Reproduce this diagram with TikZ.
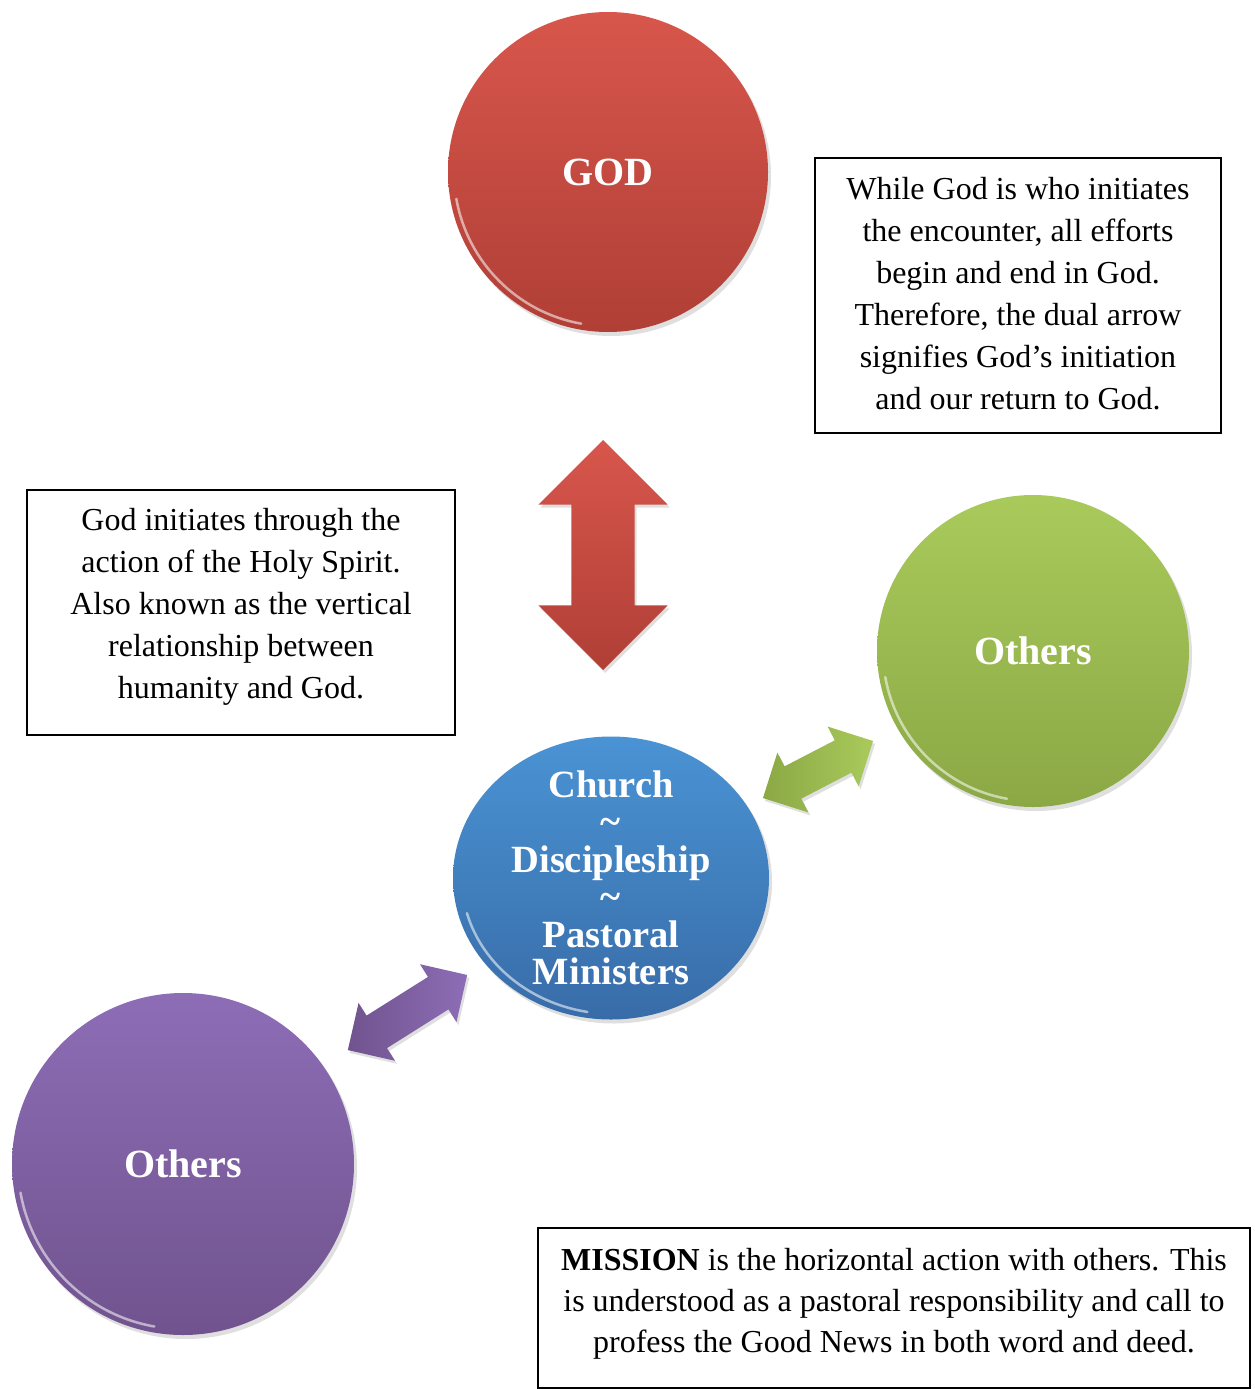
\documentclass[tikz,border=0pt]{standalone}
\usepackage{fontspec}
\setmainfont{Liberation Serif}
\usetikzlibrary{shapes.geometric,shapes.arrows,shadows,calc}
\definecolor{redT}{HTML}{D8564C}
\definecolor{redB}{HTML}{B03F36}
\definecolor{grnT}{HTML}{A9CA5B}
\definecolor{grnB}{HTML}{8BA845}
\definecolor{bluT}{HTML}{4A93D4}
\definecolor{bluB}{HTML}{386CA8}
\definecolor{purT}{HTML}{8D6DB6}
\definecolor{purB}{HTML}{70538E}
\tikzset{
  ball/.style={circle,inner sep=0pt,text=white,font=\fontsize{40pt}{44pt}\selectfont\bfseries,
    drop shadow={opacity=0.25,shadow xshift=3pt,shadow yshift=-4pt}},
  rim/.style={white,opacity=0.55,line width=2.5pt,line cap=round},
  boxframe/.style={draw=black,line width=1.5pt,inner sep=0pt},
  notetext/.style={align=center,inner sep=0pt,font=\fontsize{32pt}{42pt}\selectfont},
  dblarrow/.style={double arrow,inner sep=0pt,text height=#1,text depth=0pt,
    double arrow tip angle=90,
    drop shadow={opacity=0.25,shadow xshift=2pt,shadow yshift=-3pt}},
}
\begin{document}
\begin{tikzpicture}[x=1pt,y=-1pt]
\useasboundingbox (0,0) rectangle (1255,1389);
% circles
\node[ball,minimum size=320pt,top color=redT,bottom color=redB] (god) at (608,172) {GOD};
\node[ball,minimum size=312pt,top color=grnT,bottom color=grnB] (othersR) at (1033,651) {Others};
\node[ball,minimum size=342pt,top color=purT,bottom color=purB] (othersL) at (183,1164) {Others};
\node[ball,ellipse,minimum width=316pt,minimum height=283pt,inner ysep=-45pt,top color=bluT,bottom color=bluB,
  align=center,font=\fontsize{38.5pt}{37.5pt}\selectfont\bfseries] (church) at (611,878)
  {Church\\\textasciitilde\\Discipleship\\\textasciitilde\\Pastoral\\Ministers};
% rim highlights
\draw[rim] ($(god.center)+(100:154)$) arc[start angle=100,end angle=170,radius=154];
\draw[rim] ($(othersR.center)+(100:150)$) arc[start angle=100,end angle=170,radius=150];
\draw[rim] ($(othersL.center)+(100:165)$) arc[start angle=100,end angle=170,radius=165];
\draw[rim] ($(church.center)+(100:136)$) arc[start angle=100,end angle=165,x radius=152,y radius=136];
% arrows
\node[dblarrow=63pt,minimum height=230pt,double arrow head extend=33pt,rotate=90,
  top color=redT,bottom color=redB] (vert) at (603,555) {};
\node[dblarrow=36pt,minimum height=124pt,double arrow head extend=15.5pt,rotate=27.4,
  left color=grnB,right color=grnT] (horR) at (818,769.5) {};
\node[dblarrow=38pt,minimum height=141pt,double arrow head extend=15pt,rotate=32.2,
  left color=purB,right color=purT] (horL) at (407.5,1012.5) {};
% text boxes
\node[boxframe,minimum width=406pt,minimum height=275pt] (frameTR) at (1018,295.5) {};
\node[notetext] (noteTR) at ($(frameTR.center)+(0,-2)$)
  {While God is who initiates\\the encounter, all efforts\\begin and end in God.\\Therefore, the dual arrow\\signifies God’s initiation\\and our return to God.};
\node[boxframe,minimum width=428pt,minimum height=245pt] (frameL) at (241,612.5) {};
\node[notetext] (noteL) at ($(frameL.center)+(0,-5.5)$)
  {God initiates through the\\action of the Holy Spirit.\\Also known as the vertical\\relationship between\\humanity and God.};
\node[boxframe,minimum width=712pt,minimum height=160pt] (frameB) at (894,1308) {};
\node[notetext,font=\fontsize{32pt}{41pt}\selectfont] (noteB) at ($(frameB.center)+(0,-4)$)
  {\textbf{MISSION} is the horizontal action with others. This\\is understood as a pastoral responsibility and call to\\profess the Good News in both word and deed.};
\end{tikzpicture}
\end{document}
